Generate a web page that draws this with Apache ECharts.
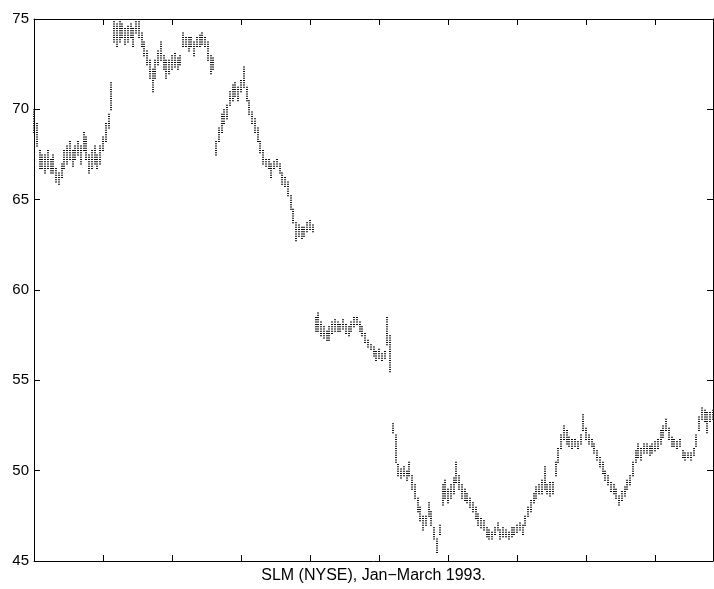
<!DOCTYPE html>
<html>
<head>
<meta charset="utf-8">
<title>SLM (NYSE), Jan−March 1993</title>
<script src="https://cdn.jsdelivr.net/npm/echarts@6/dist/echarts.min.js"></script>
<style>
  html, body { margin: 0; padding: 0; background: #fff; }
  #chart { width: 714px; height: 589px; }
</style>
</head>
<body>
<div id="chart"></div>
<script>
// SLM trades, Jan–March 1993. Each bucket holds 40 consecutive trades;
// the low and high trade price of every bucket is listed (1/8 dollar ticks).
const TRADES_PER_BUCKET = 40;
const TOTAL_TRADES = 9840;

const priceLow = [
  68.75, 68.0, 66.75, 66.75, 66.5, 66.75, 66.5, 66.5, 66.0, 65.875,
  66.25, 66.75, 67.0, 67.25, 66.875, 67.25, 67.5, 67.0, 67.75, 67.25,
  66.5, 66.75, 67.0, 66.75, 67.0, 67.75, 68.25, 69.0, 70.0, 73.75,
  73.5, 73.75, 74.0, 73.625, 73.75, 74.0, 73.5, 74.25, 74.0, 73.5,
  73.0, 72.5, 71.75, 71.0, 71.75, 72.5, 72.75, 72.25, 71.75, 72.0,
  72.25, 72.375, 72.25, 72.5, 73.5, 73.5, 73.25, 73.5, 73.0, 73.5,
  73.5, 73.625, 73.5, 72.75, 72.0, 72.25, 67.5, 68.25, 68.75, 69.25,
  69.5, 70.25, 70.5, 70.75, 70.5, 71.0, 71.25, 70.5, 69.75, 69.25,
  68.75, 68.25, 67.625, 67.0, 66.875, 66.75, 66.25, 66.75, 66.875, 66.5,
  65.875, 65.75, 65.25, 64.5, 63.75, 62.75, 63.0, 62.875, 63.0, 63.25,
  63.375, 63.25, 57.75, 57.75, 57.5, 57.375, 57.25, 57.25, 57.625, 57.75,
  57.75, 57.75, 57.875, 57.625, 57.5, 57.75, 58.0, 58.125, 57.75, 57.5,
  57.125, 56.875, 56.75, 56.375, 56.125, 56.25, 56.125, 56.25, 57.0, 55.5,
  52.125, 50.5, 49.75, 49.625, 49.75, 49.5, 49.75, 49.0, 48.5, 47.75,
  47.25, 46.75, 47.0, 47.5, 47.0, 46.25, 45.5, 46.5, 48.125, 48.5,
  48.25, 48.5, 48.75, 49.375, 49.0, 48.5, 48.375, 48.25, 48.0, 47.75,
  47.375, 47.0, 46.875, 46.75, 46.375, 46.25, 46.25, 46.5, 46.75, 46.25,
  46.375, 46.375, 46.25, 46.375, 46.5, 46.625, 46.75, 46.5, 47.0, 47.5,
  47.75, 48.25, 48.5, 48.75, 48.75, 49.0, 48.75, 48.625, 48.75, 49.75,
  50.5, 51.25, 51.75, 51.5, 51.375, 51.25, 51.375, 51.25, 51.5, 52.25,
  51.75, 51.5, 51.375, 51.0, 50.625, 50.25, 49.875, 49.5, 49.25, 48.875,
  48.75, 48.5, 48.125, 48.375, 48.625, 49.0, 49.25, 49.75, 50.5, 50.75,
  50.625, 51.0, 51.0, 50.875, 51.0, 51.125, 51.25, 51.5, 51.875, 52.25,
  51.75, 51.375, 51.375, 51.25, 51.375, 50.75, 50.625, 50.75, 50.625, 50.875,
  51.375, 52.25, 52.875, 52.75, 52.125, 52.75, 52.875
];

const priceHigh = [
  70.0, 69.25, 67.75, 67.5, 67.5, 67.75, 67.25, 67.5, 66.75, 66.5,
  67.0, 67.75, 68.0, 68.25, 67.75, 68.0, 68.25, 68.0, 68.75, 68.5,
  67.5, 67.75, 68.0, 67.5, 68.0, 68.5, 69.25, 69.75, 71.5, 74.875,
  74.75, 74.875, 74.75, 74.5, 74.625, 74.75, 74.5, 75.0, 74.875, 74.25,
  73.75, 73.25, 72.75, 72.25, 72.75, 73.25, 73.75, 73.0, 72.75, 72.75,
  73.0, 73.125, 72.875, 73.0, 74.25, 74.0, 74.0, 74.0, 73.75, 74.0,
  74.125, 74.25, 74.0, 73.75, 73.0, 72.875, 68.25, 69.0, 69.75, 70.0,
  70.25, 71.0, 71.375, 71.5, 71.25, 71.625, 72.375, 71.25, 70.5, 69.875,
  69.5, 69.0, 68.25, 67.75, 67.25, 67.25, 67.0, 67.125, 67.25, 67.0,
  66.5, 66.25, 66.0, 65.25, 64.5, 63.75, 63.625, 63.5, 63.5, 63.75,
  63.875, 63.625, 58.5, 58.75, 58.25, 58.0, 57.75, 58.0, 58.25, 58.375,
  58.25, 58.125, 58.375, 58.125, 58.0, 58.25, 58.5, 58.5, 58.25, 58.0,
  57.625, 57.25, 57.0, 56.875, 56.625, 56.75, 56.5, 56.625, 58.5, 57.5,
  52.625, 52.0, 50.375, 50.125, 50.25, 50.0, 50.5, 49.75, 49.25, 48.5,
  48.0, 47.5, 47.5, 48.25, 47.75, 46.875, 46.25, 47.0, 49.25, 49.5,
  49.0, 49.25, 49.625, 50.5, 49.75, 49.25, 49.0, 48.75, 48.5, 48.25,
  48.0, 47.625, 47.375, 47.25, 46.875, 46.75, 46.625, 46.875, 47.125, 46.75,
  46.875, 46.75, 46.625, 46.875, 46.875, 47.0, 47.125, 47.0, 47.5, 48.0,
  48.375, 48.75, 49.125, 49.25, 49.5, 50.25, 49.25, 49.375, 49.375, 50.5,
  51.25, 52.0, 52.5, 52.25, 51.875, 51.75, 51.75, 51.625, 52.0, 53.125,
  52.375, 52.0, 51.75, 51.5, 51.125, 50.75, 50.5, 50.0, 49.75, 49.375,
  49.25, 49.0, 48.625, 48.875, 49.125, 49.5, 49.75, 50.5, 51.125, 51.5,
  51.25, 51.5, 51.5, 51.375, 51.5, 51.625, 51.75, 52.25, 52.5, 52.875,
  52.375, 51.875, 51.75, 51.625, 51.75, 51.125, 51.0, 51.0, 51.0, 51.25,
  52.0, 53.0, 53.5, 53.375, 53.25, 53.25, 53.375
];

const priceTicks = [45, 50, 55, 60, 65, 70, 75];
const TRADE_TICK_STEP = 1000;
const xLabel = 'SLM (NYSE), Jan\u2212March 1993.';

const buckets = priceLow.map((lo, i) => [i * TRADES_PER_BUCKET, lo, priceHigh[i]]);

const FONT = '"Liberation Sans", Arial, Helvetica, sans-serif';
const black = '#000';

function tradeAxis(position, withName) {
  const axis = {
    type: 'value',
    position: position,
    min: 0,
    max: TOTAL_TRADES,
    interval: TRADE_TICK_STEP,
    axisLine: { show: true, onZero: false, lineStyle: { color: black, width: 1 } },
    axisTick: { show: true, inside: true, length: 6, lineStyle: { color: black, width: 1 } },
    axisLabel: { show: false },
    splitLine: { show: false }
  };
  if (withName) {
    axis.name = xLabel;
    axis.nameLocation = 'middle';
    axis.nameGap = 7;
    axis.nameTextStyle = { fontFamily: FONT, fontSize: 16, color: black };
  }
  return axis;
}

function priceAxis(position, withLabels) {
  return {
    type: 'value',
    position: position,
    min: priceTicks[0],
    max: priceTicks[priceTicks.length - 1],
    interval: priceTicks[1] - priceTicks[0],
    axisLine: { show: true, onZero: false, lineStyle: { color: black, width: 1 } },
    axisTick: { show: true, inside: true, length: 6, lineStyle: { color: black, width: 1 } },
    axisLabel: {
      show: withLabels,
      fontFamily: FONT,
      fontSize: 15,
      color: black,
      margin: 5
    },
    splitLine: { show: false }
  };
}

const chart = echarts.init(document.getElementById('chart'), null, { renderer: 'canvas' });

chart.setOption({
  animation: false,
  backgroundColor: '#fff',
  grid: { left: 34, right: 1, top: 19, bottom: 25, containLabel: false },
  xAxis: [tradeAxis('bottom', true), tradeAxis('top', false)],
  yAxis: [priceAxis('left', true), priceAxis('right', false)],
  series: [{
    type: 'custom',
    xAxisIndex: 0,
    yAxisIndex: 0,
    data: buckets,
    encode: { x: 0, y: [1, 2] },
    silent: true,
    renderItem: function (params, api) {
      const t = api.value(0);
      const top = api.coord([t, api.value(2)]);
      const bot = api.coord([t, api.value(1)]);
      const px = Math.round(top[0]);
      // each trade level is one dot, 1/8 dollar apart
      const eighth = (bot[1] - top[1]) / ((api.value(2) - api.value(1)) * 8 || 1);
      return {
        type: 'line',
        shape: { x1: px, y1: top[1], x2: px, y2: bot[1] + 1 },
        style: {
          stroke: '#111',
          lineWidth: 2,
          lineDash: [1, Math.max(eighth - 1, 0.8)]
        }
      };
    }
  }]
});
</script>
</body>
</html>
